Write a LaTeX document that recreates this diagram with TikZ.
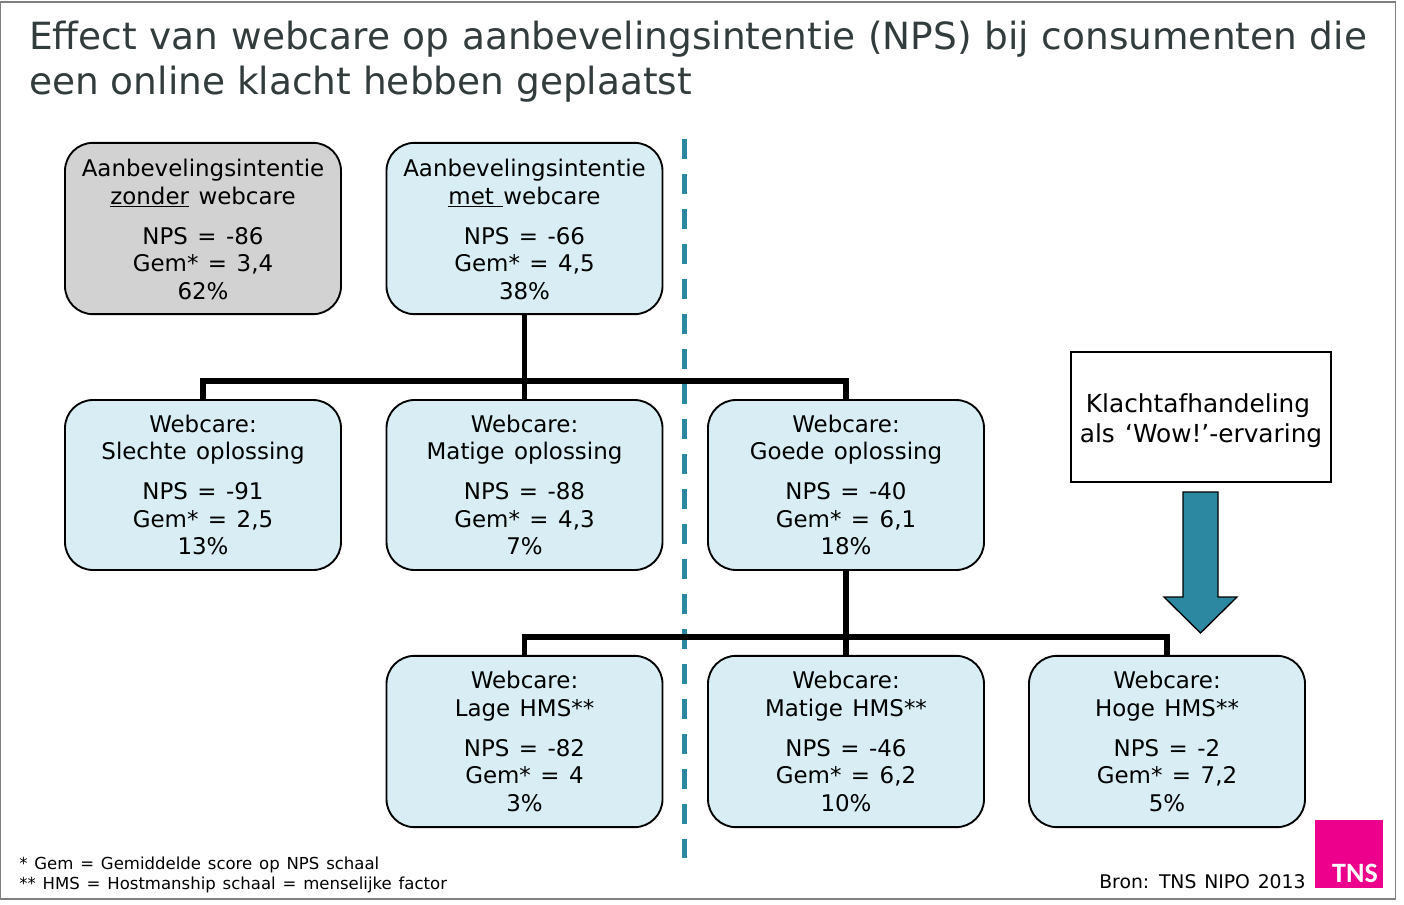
\documentclass[tikz,border=0pt]{standalone}
\usepackage{fontspec}
\setmainfont[WordSpace=1.3]{DejaVu Sans}
\newfontfamily\titlefont{DejaVu Sans}
\newfontfamily\logofont[BoldFont={Carlito Bold}]{Carlito}
\definecolor{boxblue}{HTML}{D8EDF4}
\definecolor{boxgray}{HTML}{D2D2D2}
\definecolor{teal2}{HTML}{2C87A0}
\definecolor{titlecol}{HTML}{333C3C}
\definecolor{tnspink}{HTML}{EC008C}
\definecolor{framecol}{HTML}{7F7F7F}
\newcommand{\boxtext}[5]{#1\\#2\\[9.4pt]#3\\#4\\#5}
\newcommand{\lowerstrut}{\rule{0pt}{14.6pt}}
\tikzset{
  card/.style={draw=black,line width=1.4pt,rounded corners=21pt,fill=boxblue,
    minimum width=207pt,minimum height=128.5pt,align=center,inner sep=0pt,
    text=black,font=\fontsize{17.2pt}{20.6pt}\selectfont},
  graycard/.style={card,fill=boxgray},
  midcard/.style={card,minimum height=127.5pt},
  link/.style={draw=black,line width=3.8pt},
  cut/.style={draw=teal2,line width=3.8pt,dash pattern=on 15pt off 11.25pt},
  plain/.style={inner sep=0pt,anchor=base west,align=left},
  headline/.style={plain,text=titlecol,font=\titlefont\fontsize{28.1pt}{34pt}\selectfont}
}
\begin{document}
\begin{tikzpicture}[x=0.75pt,y=-0.75pt]
\useasboundingbox (0,0) rectangle (1404,904);
\fill[white] (0,0) rectangle (1404,904);
\draw[framecol,line width=1.2pt] (0.5,2) rectangle (1395.5,899);
\node[headline] (title) at (29,49) {\spaceskip=9.52pt\relax Effect van webcare op aanbevelingsintentie (NPS) bij consumenten die};
\node[headline] (title2) at (29,94) {een online klacht hebben geplaatst};
\coordinate (cuttop) at (684.5,139);
\coordinate (cutbot) at (684.5,858);
\draw[cut] (cuttop) -- (cutbot);
\node[graycard] (a1) at (203,228.5) {\boxtext{\lowerstrut Aanbevelingsintentie}{\underline{zonder} webcare}{NPS = -86}{Gem* = 3,4}{62\%}};
\node[card] (a2) at (524.5,228.5) {\boxtext{\lowerstrut Aanbevelingsintentie}{\underline{met\ }webcare}{NPS = -66}{Gem* = 4,5}{38\%}};
\node[midcard] (b1) at (203,485) {\boxtext{Webcare:}{Slechte oplossing}{NPS = -91}{Gem* = 2,5}{13\%}};
\node[midcard] (b2) at (524.5,485) {\boxtext{Webcare:}{Matige oplossing}{NPS = -88}{Gem* = 4,3}{7\%}};
\node[midcard] (b3) at (846,485) {\boxtext{Webcare:}{Goede oplossing}{NPS = -40}{Gem* = 6,1}{18\%}};
\node[card] (c1) at (524.5,741.5) {\boxtext{Webcare:}{Lage HMS**}{NPS = -82}{Gem* = 4}{3\%}};
\node[card] (c2) at (846,741.5) {\boxtext{Webcare:}{Matige HMS**}{NPS = -46}{Gem* = 6,2}{10\%}};
\node[card] (c3) at (1167,741.5) {\boxtext{Webcare:}{Hoge HMS**}{NPS = -2}{Gem* = 7,2}{5\%}};
\coordinate (busa) at (524.5,381);
\coordinate (busb) at (846,637);
\draw[link] (a2.south) -- (b2.north);
\draw[link] (b1.north) |- (busa) -| (b3.north);
\draw[link] (b3.south) -- (c2.north);
\draw[link] (c1.north) |- (busb) -| (c3.north);
\node[draw=black,line width=1.9pt,fill=white,minimum width=195pt,minimum height=97.5pt,inner sep=0pt,align=center,font=\fontsize{18.6pt}{22.5pt}\selectfont] (wow) at (1201,417) {\rule{0pt}{20pt}Klachtafhandeling\hspace*{4.5pt}\\als ‘Wow!’-ervaring};
\draw[draw=black,line width=1pt,fill=teal2] (1183,492) -- (1218,492) -- (1218,597) -- (1237,597) -- (1200.5,633) -- (1164,597) -- (1183,597) -- cycle;
\node[plain,font=\fontsize{12.4pt}{15pt}\selectfont] (fn1) at (19,869) {* Gem = Gemiddelde score op NPS schaal};
\node[plain,font=\fontsize{12.4pt}{15pt}\selectfont] (fn2) at (19,889) {** HMS = Hostmanship schaal = menselijke factor};
\node[plain,font=\fontsize{14.1pt}{17pt}\selectfont] (src) at (1099,888) {Bron: TNS NIPO 2013};
\node[fill=tnspink,minimum width=51pt,minimum height=51pt,inner sep=0pt] (logo) at (1349,854) {};
\node[inner sep=0pt,anchor=base east,text=white,font=\logofont\fontsize{21pt}{24pt}\bfseries\selectfont] (tns) at (1378,882) {TNS};
\end{tikzpicture}
\end{document}
